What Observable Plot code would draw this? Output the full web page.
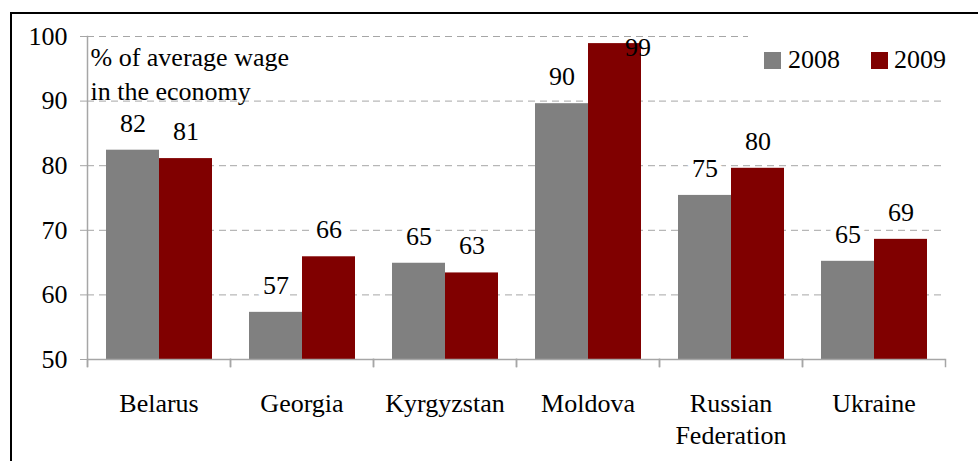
<!DOCTYPE html>
<html>
<head>
<meta charset="utf-8">
<script src="https://cdn.jsdelivr.net/npm/d3@7"></script>
<script src="https://cdn.jsdelivr.net/npm/@observablehq/plot@0.6"></script>
<style>
  html, body { margin: 0; padding: 0; background: #fff; overflow: hidden; }
  body { width: 978px; height: 461px; position: relative; font-family: "Liberation Serif", "Times New Roman", Times, "DejaVu Serif", serif; }
  #frame { position: absolute; left: 10px; top: 12px; width: 1200px; height: 800px; border-left: 2px solid #000; border-top: 2px solid #000; box-sizing: border-box; pointer-events: none; }
  #chart { position: absolute; left: 0; top: 0; }
  #legend { position: absolute; left: 748px; top: 30px; width: 198px; height: 56px; background: #fff; }
  .sw { position: absolute; width: 17px; height: 17px; top: 22px; }
  .lab { position: absolute; top: 17px; font-size: 26px; line-height: 26px; color: #000; white-space: nowrap; }
</style>
</head>
<body>
<div id="chart"></div>
<div id="legend"></div>
<div id="frame"></div>
<script>
// ---- data ----
const countries = ["Belarus", "Georgia", "Kyrgyzstan", "Moldova", "Russian Federation", "Ukraine"];
const countryLabels = ["Belarus", "Georgia", "Kyrgyzstan", "Moldova", "Russian\nFederation", "Ukraine"];
const years = ["2008", "2009"];
const values2008 = [82.4, 57.3, 64.9, 89.6, 75.4, 65.2];
const values2009 = [81.1, 65.9, 63.4, 98.9, 79.6, 68.6];
const yTicks = [50, 60, 70, 80, 90, 100];
const yDomain = [50, 100];
const unitNote = "% of average wage\nin the economy";
const colors = ["#808080", "#800000"];

const rows = [];
countries.forEach((c, i) => {
  rows.push({country: c, year: years[0], value: values2008[i]});
  rows.push({country: c, year: years[1], value: values2009[i]});
});
const labelFmt = d => String(Math.round(d.value));
const inside = rows.filter(d => d.value <= 95);
const clamped = rows.filter(d => d.value > 95);

const serif = "'Liberation Serif', 'Times New Roman', Times, 'DejaVu Serif', serif";
const axisGray = "#a6a6a6";
const plot = Plot.plot({
  width: 978,
  height: 461,
  marginLeft: 86,
  marginRight: 32,
  marginTop: 36,
  marginBottom: 102,
  style: {fontFamily: serif, fontSize: "26px", color: "#000", background: "transparent", overflow: "visible"},
  fx: {domain: countries, padding: 0, label: null},
  x: {domain: years, paddingInner: 0, paddingOuter: 0.34, axis: null},
  y: {domain: yDomain, label: null},
  color: {domain: years, range: colors},
  marks: [
    Plot.ruleY(yTicks.slice(1), {stroke: axisGray, strokeDasharray: "7,5", strokeWidth: 1}),
    Plot.barY(rows, {fx: "country", x: "year", y1: yDomain[0], y2: "value", fill: "year"}),
    Plot.ruleY([yDomain[0]], {stroke: axisGray, strokeWidth: 1.5}),
    Plot.frame({anchor: "left", facetAnchor: "left", stroke: axisGray, strokeWidth: 1.5, insetBottom: -7}),
    Plot.frame({anchor: "left", stroke: axisGray, strokeWidth: 1.5, insetTop: 323, insetBottom: -7}),
    Plot.frame({anchor: "right", stroke: axisGray, strokeWidth: 1.5, insetTop: 323, insetBottom: -7}),
    Plot.axisY({ticks: yTicks, tickSize: 7, tickPadding: 13, stroke: axisGray, fill: "#000", label: null, fontFamily: serif}),
    Plot.axisFx({anchor: "bottom", tickSize: 0, tickPadding: 29.5, tickFormat: d => countryLabels[countries.indexOf(d)], lineHeight: 1.23, label: null, fill: "#000", fontFamily: serif}),
    Plot.text(inside, {fx: "country", x: "year", y: "value", text: labelFmt, dy: -27, fill: "#000", stroke: "#fff", strokeWidth: 12, fontFamily: serif}),
    Plot.text(clamped, {fx: "country", x: "year", y: "value", text: labelFmt, dy: 4, dx: 23, fill: "#000", fontFamily: serif}),
    Plot.text([{country: countries[0], t: unitNote}], {fx: "country", text: "t", frameAnchor: "top-left", textAnchor: "start", lineAnchor: "top", dx: 3, dy: 5.5, lineHeight: 1.3, fill: "#000", fontFamily: serif})
  ]
});
document.getElementById("chart").appendChild(plot);

// legend
const legend = document.getElementById("legend");
const legendPos = [{sw: 16, lab: 40}, {sw: 123, lab: 146}];
years.forEach((y, i) => {
  const sw = document.createElement("div");
  sw.className = "sw";
  sw.style.left = legendPos[i].sw + "px";
  sw.style.background = colors[i];
  legend.appendChild(sw);
  const lab = document.createElement("div");
  lab.className = "lab";
  lab.style.left = legendPos[i].lab + "px";
  lab.textContent = y;
  legend.appendChild(lab);
});
</script>
</body>
</html>
